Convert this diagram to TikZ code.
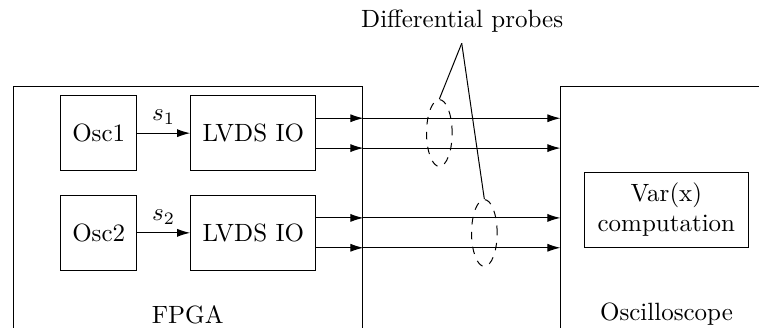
\documentclass[tikz,border=0pt]{standalone}
\usetikzlibrary{shapes.geometric, arrows.meta}
\tikzset{
    blk/.style={draw, minimum height=1.05cm, inner sep=2pt},
    probe/.style={draw, dashed, ellipse, minimum width=0.36cm, minimum height=0.94cm, inner sep=0pt},
    sig/.style={-{Latex[length=5.2pt, width=3.2pt]}},
}
\begin{document}
\begin{tikzpicture}
    \useasboundingbox (0,0) rectangle (10.675,4.613);
    \clip (0,0) rectangle (10.675,4.613);

    % outer boxes, open at the bottom
    \node[draw, minimum width=4.918cm, minimum height=3.903cm] (fpga) at (2.646, 1.4515) {};
    \node[draw, minimum width=2.964cm, minimum height=3.903cm] (scope) at (9.372, 1.4515) {};
    \node at (2.64, 0.19) {FPGA};
    \node at (9.374, 0.19) {Oscilloscope};

    \node[blk, minimum width=1.068cm] (osc1) at (1.388, 2.74) {Osc1};
    \node[blk, minimum width=1.068cm] (osc2) at (1.388, 1.338) {Osc2};
    \node[blk, minimum width=1.762cm] (lvds1) at (3.563, 2.74) {LVDS IO};
    \node[blk, minimum width=1.762cm] (lvds2) at (3.563, 1.338) {LVDS IO};
    \node[blk, minimum width=2.307cm, align=center] (var) at (9.372, 1.66) {Var(x)\\computation};

    \draw[sig] (osc1) -- node[above] {$s_1$} (lvds1);
    \draw[sig] (osc2) -- node[above] {$s_2$} (lvds2);

    % differential pairs
    \foreach \lv in {lvds1, lvds2} {
        \foreach \dy in {0.21, -0.21} {
            \draw[sig] ([yshift=\dy cm]\lv.east) -- ([yshift=\dy cm]\lv.east -| fpga.east);
            \draw[sig] ([yshift=\dy cm]\lv.east -| fpga.east) -- ([yshift=\dy cm]\lv.east -| scope.west);
        }
    }

    % probes
    \node[probe] (pr1) at (6.179, 2.742) {};
    \node[probe] (pr2) at (6.812, 1.336) {};
    \node (lbl) at (6.50, 4.32) {Differential probes};
    \coordinate (apex) at (6.494, 4.004);
    \draw (apex) -- (pr1.north);
    \draw (apex) -- (pr2.north);
\end{tikzpicture}
\end{document}
